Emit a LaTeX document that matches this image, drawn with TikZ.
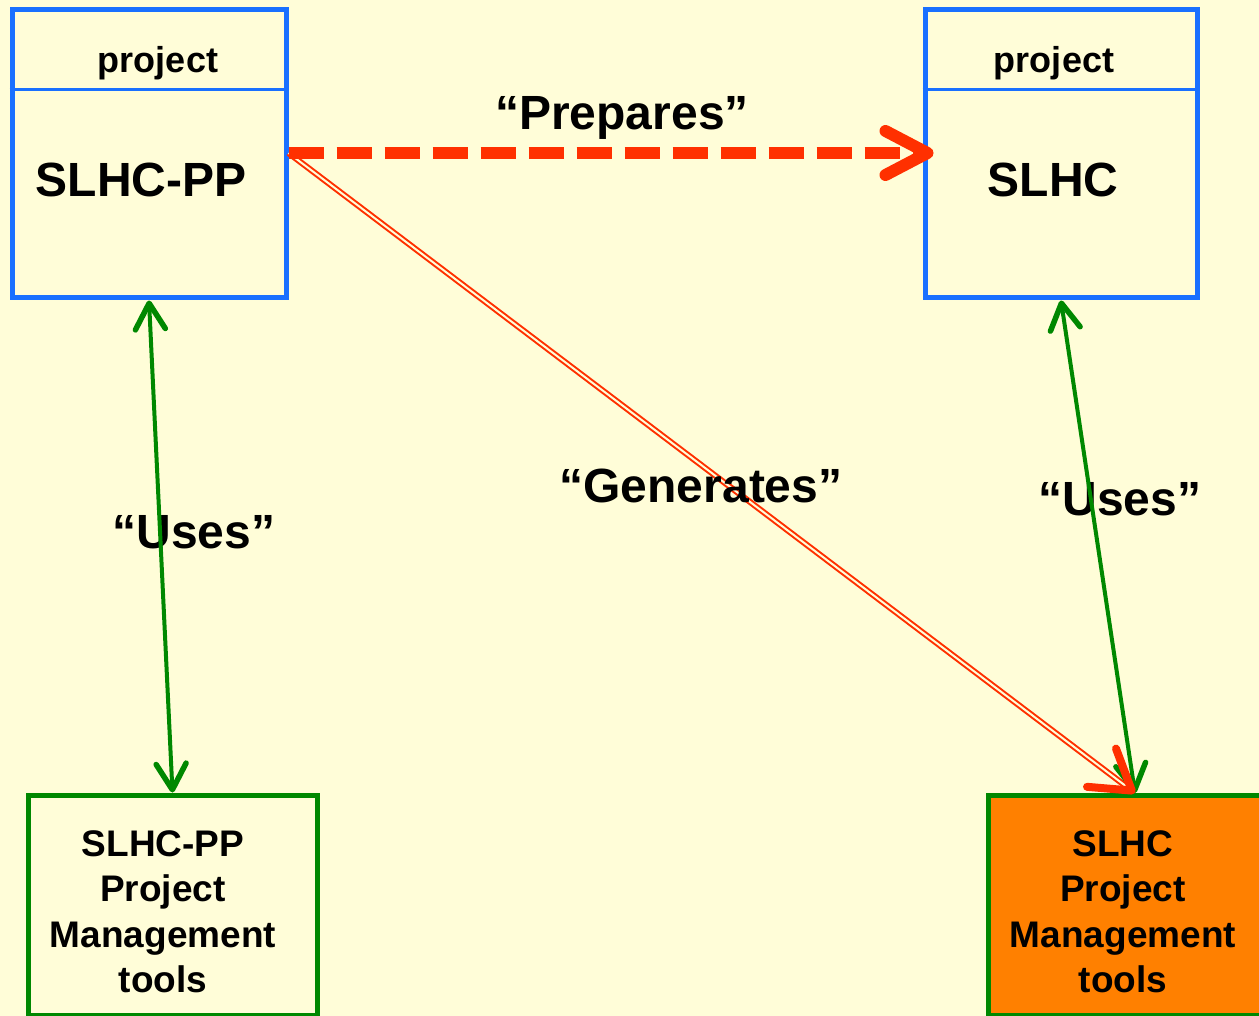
\documentclass[tikz,border=0pt]{standalone}
\usepackage{fontspec}
\setmainfont{Liberation Sans}
\usetikzlibrary{arrows.meta,calc}
\definecolor{bg}{RGB}{255,253,216}
\definecolor{pblue}{RGB}{25,112,255}
\definecolor{gred}{RGB}{255,48,0}
\definecolor{ggreen}{RGB}{0,136,0}
\definecolor{gorange}{RGB}{255,128,0}
\begin{document}
\begin{tikzpicture}[x=1pt,y=-1pt,
  projbox/.style={draw=pblue, line width=5pt, minimum height=288pt, inner sep=0pt},
  toolbox/.style={draw=ggreen, line width=5pt, minimum height=220pt, inner sep=0pt},
  smalltxt/.style={font=\fontsize{36}{40}\selectfont\bfseries, inner sep=0pt, anchor=base},
  bigtxt/.style={font=\fontsize{48}{56}\selectfont\bfseries, inner sep=0pt, anchor=base},
  tooltxt/.style={font=\fontsize{37}{45.5}\selectfont\bfseries, inner sep=0pt, align=center, anchor=north},
  usesarrow/.style={draw=ggreen, line width=4pt,
    {Straight Barb[length=26pt,width=30pt,line width=5.5pt,round]}-{Straight Barb[length=26pt,width=30pt,line width=5.5pt,round]}}
]
\useasboundingbox (0,0) rectangle (1259,1016);
\fill[bg] (0,0) rectangle (1259,1016);

% project boxes
\node[projbox, minimum width=274pt] (A) at (149,154) {};
\node[projbox, minimum width=272pt] (B) at (1061,154) {};
\coordinate (div) at (0,90);
\draw[pblue, line width=3pt] (A.west |- div) -- (A.east |- div);
\draw[pblue, line width=3pt] (B.west |- div) -- (B.east |- div);
\node[smalltxt] (Ap) at (158,73) {project};
\node[bigtxt] (An) at (141,197) {SLHC-PP};
\node[smalltxt] (Bp) at (1054,73) {project};
\node[bigtxt] (Bn) at (1053,197) {SLHC};

% tool boxes
\node[toolbox, minimum width=289pt] (D) at (172.5,905) {};
\node[toolbox, fill=gorange, minimum width=277pt] (C) at (1126.5,905) {};
\node[tooltxt] (Dt) at (163,830) {SLHC-PP\\Project\\Management\\tools};
\node[tooltxt] (Ct) at (1123,830) {SLHC\\Project\\Management\\tools};

% generates connector (under its label)
\coordinate (gtip) at (1135,793);
\draw[gred, line width=2pt, double=bg, double distance=2pt, shorten >=8pt] (A.east |- 0,153) -- (gtip);

% labels
\node[bigtxt] (lp) at (622,130) {“Prepares”};
\node[bigtxt] (lg) at (701,502) {“Generates”};
\node[bigtxt] (lu1) at (194,548) {“Uses”};
\node[bigtxt] (lu2) at (1120,515) {“Uses”};

% other connectors
\draw[gred, line width=12pt, dash pattern=on 35pt off 13pt, shorten >=-11pt,
  -{Straight Barb[length=42pt,width=44pt,round]}] (A.east |- 0,153) -- (B.west |- 0,153);
\draw[usesarrow] (A.south) -- (D.north);
\draw[usesarrow] (B.south) -- (gtip);
\draw[gred, line width=0.5pt, -{Straight Barb[length=38pt,width=48pt,line width=8pt,round]}]
  ($(gtip)!2pt!(A.east |- 0,153)$) -- (gtip);
\end{tikzpicture}
\end{document}
